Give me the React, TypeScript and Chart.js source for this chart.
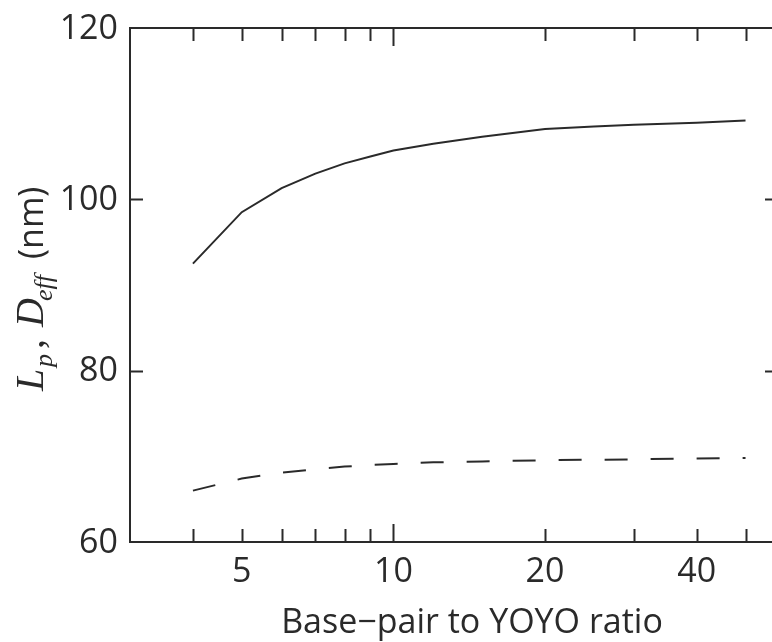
import React, { useEffect, useRef } from "react";
import { Chart, registerables } from "chart.js";

Chart.register(...registerables);

const xValues = [4, 5, 6, 7, 8, 9, 10, 12, 15, 20, 25, 30, 40, 50];
const lpValues = [92.5, 98.5, 101.3, 103.0, 104.2, 105.0, 105.7, 106.5, 107.3, 108.2, 108.5, 108.7, 108.95, 109.2];
const deffValues = [66.0, 67.4, 68.1, 68.5, 68.8, 69.0, 69.1, 69.3, 69.4, 69.55, 69.6, 69.65, 69.75, 69.8];
const xTickLabels = [5, 10, 20, 40];
const xMinorTicks = [4, 5, 6, 7, 8, 9, 20, 30, 40, 50];
const xMajorTicks = [10];
const yTickLabels = [60, 80, 100, 120];
const yInnerTicks = [80, 100];
const xTitle = "Base\u2212pair to YOYO ratio";

const INK = "#2a2a2a";
const SANS = "'Open Sans', sans-serif";
const SERIF = "'Liberation Serif', 'DejaVu Serif', serif";

const decorPlugin = {
  id: "decor",
  afterDraw(chart: any) {
    const ctx = chart.ctx;
    const xs = chart.scales.x;
    const ys = chart.scales.y;
    const { left, right, top, bottom } = chart.chartArea;
    ctx.save();
    // frame
    ctx.strokeStyle = INK;
    ctx.lineWidth = 2;
    ctx.strokeRect(left, top, right - left, bottom - top);
    // x ticks (inward, bottom & top)
    const drawX = (v: number, len: number) => {
      const px = Math.round(xs.getPixelForValue(v)) + 0.5;
      ctx.beginPath();
      ctx.moveTo(px, bottom);
      ctx.lineTo(px, bottom - len);
      ctx.moveTo(px, top);
      ctx.lineTo(px, top + len);
      ctx.stroke();
    };
    xMinorTicks.forEach((v) => drawX(v, 13));
    xMajorTicks.forEach((v) => drawX(v, 18));
    // y ticks
    yInnerTicks.forEach((v) => {
      const py = Math.round(ys.getPixelForValue(v)) + 0.5;
      ctx.beginPath();
      ctx.moveTo(left, py);
      ctx.lineTo(left + 13, py);
      ctx.moveTo(right, py);
      ctx.lineTo(right - 13, py);
      ctx.stroke();
    });
    // tick labels
    ctx.fillStyle = INK;
    ctx.font = `34px ${SANS}`;
    ctx.textAlign = "center";
    ctx.textBaseline = "middle";
    xTickLabels.forEach((v) => {
      ctx.fillText(String(v), xs.getPixelForValue(v), bottom + 30);
    });
    ctx.textAlign = "right";
    yTickLabels.forEach((v) => {
      ctx.fillText(String(v), left - 12, ys.getPixelForValue(v) + 1);
    });
    // x title
    ctx.textAlign = "center";
    ctx.textBaseline = "alphabetic";
    ctx.font = `34px ${SANS}`;
    ctx.fillText(xTitle, 472, 633);
    // y title (rotated, reading bottom to top)
    ctx.translate(43, 0);
    ctx.rotate(-Math.PI / 2);
    ctx.textAlign = "left";
    // in rotated frame: x' = -screenY, y' = screenX - 43
    const part = (t: string, font: string, screenYStart: number, dy: number) => {
      ctx.font = font;
      ctx.fillText(t, -screenYStart, dy);
    };
    part("L", `italic 40px ${SERIF}`, 391, 0);
    part("p", `italic 26px ${SERIF}`, 367, 9);
    part(",", `40px ${SERIF}`, 349, 0);
    part("D", `italic 40px ${SERIF}`, 327, 0);
    part("eff", `italic 26px ${SERIF}`, 301, 9);
    part("(nm)", `34px ${SANS}`, 259, 0);
    ctx.restore();
  },
};

export default function App() {
  const ref = useRef<HTMLCanvasElement | null>(null);
  useEffect(() => {
    if (!ref.current) return;
    const chart = new Chart(ref.current, {
      type: "line",
      data: {
        datasets: [
          {
            label: "Lp",
            data: xValues.map((x, i) => ({ x, y: lpValues[i] })),
            borderColor: INK,
            borderWidth: 2,
            pointRadius: 0,
            tension: 0,
            fill: false,
          },
          {
            label: "Deff",
            data: xValues.map((x, i) => ({ x, y: deffValues[i] })),
            borderColor: INK,
            borderWidth: 2,
            borderDash: [23, 23],
            pointRadius: 0,
            tension: 0,
            fill: false,
          },
        ],
      },
      options: {
        responsive: false,
        animation: false,
        devicePixelRatio: 1,
        layout: { padding: { left: 130, top: 28, right: 12, bottom: 100 } },
        plugins: { legend: { display: false }, tooltip: { enabled: false }, title: { display: false } },
        scales: {
          x: { type: "logarithmic", min: 3, max: 58, display: false },
          y: { type: "linear", min: 60, max: 120, display: false },
        },
      },
      plugins: [decorPlugin],
    });
    return () => chart.destroy();
  }, []);
  return (
    <div style={{ position: "absolute", left: 0, top: 0, width: 772, height: 642, overflow: "hidden", background: "#fff" }}>
      <canvas ref={ref} width={790} height={642} style={{ display: "block" }} />
    </div>
  );
}
